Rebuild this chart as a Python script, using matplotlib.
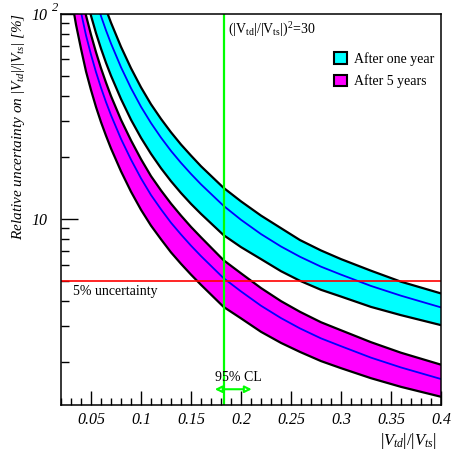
import matplotlib
matplotlib.use('Agg')
import matplotlib.pyplot as plt
from matplotlib.ticker import FixedLocator, FixedFormatter, NullFormatter, MultipleLocator
from matplotlib.patches import Patch

# ---------------- data ----------------
vtd_vts = [0.03, 0.035, 0.04, 0.045, 0.05, 0.055, 0.06, 0.065, 0.07, 0.08, 0.09,
           0.1, 0.11, 0.12, 0.13, 0.14, 0.15, 0.16, 0.1826, 0.2, 0.22, 0.24,
           0.259, 0.28, 0.3, 0.33, 0.36, 0.4]

one_year_upper = [520, 380, 285, 220, 178, 146, 124, 105.4, 90.7, 69.2, 54.4,
                  43.9, 36.3, 30.8, 26.5, 23.1, 20.4, 18.1, 14.2, 12.2, 10.4, 9.03,
                  7.9, 7.03, 6.38, 5.6, 4.95, 4.34]
one_year_center = [418, 302, 228, 176, 141.8, 116.6, 97.7, 83.2, 71.8, 55.0, 43.5,
                   35.3, 29.4, 24.96, 21.5, 18.8, 16.6, 14.77, 11.6, 9.92, 8.45, 7.35,
                   6.55, 5.86, 5.36, 4.72, 4.23, 3.71]
one_year_lower = [290, 209, 158, 122, 98.1, 80.7, 67.8, 57.8, 50.0, 38.5, 30.5,
                  24.9, 20.8, 17.7, 15.3, 13.4, 11.86, 10.6, 8.35, 7.3, 6.38, 5.57,
                  5.0, 4.52, 4.19, 3.73, 3.40, 3.04]

five_years_upper = [234, 169, 127.8, 98.4, 79.3, 65.1, 54.4, 46.3, 39.8, 30.5, 24.2,
                    19.6, 16.2, 13.8, 11.9, 10.4, 9.16, 8.15, 6.3, 5.44, 4.61, 3.98,
                    3.53, 3.14, 2.87, 2.51, 2.23, 1.95]
five_years_center = [187, 135, 102.2, 78.7, 63.4, 52.1, 43.7, 37.2, 32.1, 24.6, 19.5,
                     15.8, 13.1, 11.16, 9.6, 8.41, 7.42, 6.6, 5.15, 4.44, 3.78, 3.29,
                     2.93, 2.62, 2.40, 2.11, 1.89, 1.66]
five_years_lower = [123, 88.8, 67.7, 52.5, 42.6, 35.2, 29.7, 25.5, 22.1, 17.1, 13.6,
                    11.1, 9.29, 7.97, 6.88, 6.05, 5.36, 4.78, 3.73, 3.28, 2.82, 2.49,
                    2.25, 2.03, 1.875, 1.675, 1.52, 1.36]

legend_labels = ['After one year', 'After 5 years']
xtick_values = [0.05, 0.1, 0.15, 0.2, 0.25, 0.3, 0.35, 0.4]
xtick_labels = ['0.05', '0.1', '0.15', '0.2', '0.25', '0.3', '0.35', '0.4']
ytick_values = [10, 100]
ytick_labels = ['10', '10']
uncertainty_level = 5.0
ratio_line = 0.18257          # |Vtd|/|Vts| = 1/sqrt(30)

# ---------------- style ----------------
plt.rcParams['font.family'] = ['Liberation Serif', 'DejaVu Serif']
plt.rcParams['mathtext.fontset'] = 'custom'
plt.rcParams['mathtext.rm'] = 'Liberation Serif'
plt.rcParams['mathtext.it'] = 'Liberation Serif:style=italic'
plt.rcParams['mathtext.bf'] = 'Liberation Serif:weight=bold'

CYAN = '#00ffff'
MAGENTA = '#ff00ff'
BLUE = '#0000ff'
GREEN = '#00ff00'
RED = '#ff0000'

fig = plt.figure(figsize=(4.51, 4.54), dpi=100)
ax = fig.add_axes([61 / 451, 1 - 405 / 454, 380 / 451, 391 / 454])
ax.set_yscale('log')
ax.set_xlim(0.02, 0.4)
ax.set_ylim(1.24, 100)

for up, cen, lo, col in [(one_year_upper, one_year_center, one_year_lower, CYAN),
                         (five_years_upper, five_years_center, five_years_lower, MAGENTA)]:
    ax.fill_between(vtd_vts, lo, up, color=col, lw=0, zorder=2)
    ax.plot(vtd_vts, up, color='black', lw=1.6, zorder=3)
    ax.plot(vtd_vts, lo, color='black', lw=1.6, zorder=3)
    ax.plot(vtd_vts, cen, color=BLUE, lw=1.3, zorder=3)

ax.axhline(uncertainty_level, color=RED, lw=1.2, zorder=4)
ax.axvline(ratio_line, color=GREEN, lw=1.6, zorder=4)

# texts
ax.text(0.032, 4.41, '5% uncertainty', fontsize=10, ha='left', va='center', zorder=5)
ax.text(0.1868, 83.5, r'$(|\mathrm{V}_{\mathrm{td}}|/|\mathrm{V}_{\mathrm{ts}}|)^{2}$=30',
        fontsize=10, ha='left', va='center', zorder=5)
ax.text(0.1975, 1.69, '95% CL', fontsize=10, ha='center', va='center', zorder=5)
ax.annotate('', xy=(0.1738, 1.48), xytext=(0.2107, 1.48),
            arrowprops=dict(arrowstyle='<|-|>', ec=GREEN, fc='white', lw=1.5,
                            mutation_scale=10, shrinkA=0, shrinkB=0), zorder=5)

# legend
handles = [Patch(facecolor=CYAN, edgecolor='black', lw=1.5),
           Patch(facecolor=MAGENTA, edgecolor='black', lw=1.5)]
ax.legend(handles, legend_labels, loc='upper left',
          bbox_to_anchor=((334 - 61) / 380, 1 - (52 - 14) / 391),
          frameon=False, fontsize=10, handlelength=0.95, handleheight=0.9,
          handletextpad=0.5, labelspacing=0.62, borderpad=0, borderaxespad=0)

# axes / ticks
ax.xaxis.set_major_locator(FixedLocator(xtick_values))
ax.xaxis.set_major_formatter(FixedFormatter(xtick_labels))
ax.xaxis.set_minor_locator(MultipleLocator(0.01))
ax.yaxis.set_major_locator(FixedLocator(ytick_values))
ax.yaxis.set_major_formatter(FixedFormatter(ytick_labels))
ax.yaxis.set_minor_locator(FixedLocator([2, 3, 4, 5, 6, 7, 8, 9, 20, 30, 40, 50, 60, 70, 80, 90]))
ax.yaxis.set_minor_formatter(NullFormatter())

ax.tick_params(axis='both', which='both', direction='in', top=False, right=False, width=1)
ax.tick_params(axis='x', which='major', length=10, pad=5)
ax.tick_params(axis='x', which='minor', length=5)
ax.tick_params(axis='y', which='major', length=12, pad=10)
ax.tick_params(axis='y', which='minor', length=6)
for lab in ax.get_xticklabels() + ax.get_yticklabels():
    lab.set_fontstyle('italic')
    lab.set_fontsize(11.5)
for sp in ax.spines.values():
    sp.set_linewidth(1.1)
    sp.set_zorder(6)

# superscript of the 10^2 label
ax.text(-(61 - 52) / 380, 100, '2', transform=ax.get_yaxis_transform(),
        fontsize=9, fontstyle='italic', ha='left', va='bottom')

ax.set_xlabel(r'$|V_{td}|/|V_{ts}|$', fontsize=12)
ax.xaxis.set_label_coords((437 - 61) / 380, -(441 - 405) / 391)
ax.xaxis.label.set_ha('right')
ax.xaxis.label.set_va('center')

ax.set_ylabel(r'Relative uncertainty on $|V_{td}|/|V_{ts}|$ [%]', fontsize=11,
              fontstyle='italic', loc='top')
ax.yaxis.set_label_coords(-(61 - 19) / 380, 1 + 1 / 391)
ax.yaxis.label.set_va('center')

fig.savefig('out.png', dpi=100)
